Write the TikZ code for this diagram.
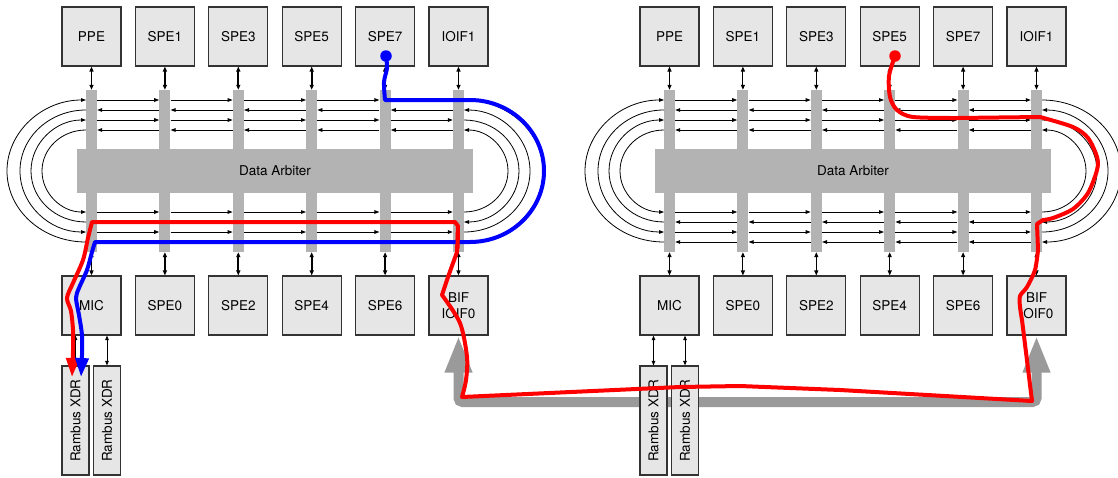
\documentclass[tikz,border=0pt]{standalone}
\usepackage{fontspec}
\setmainfont{TeX Gyre Heros}
\usetikzlibrary{arrows.meta}
\definecolor{boxfill}{HTML}{E6E6E6}
\definecolor{boxline}{HTML}{333333}
\definecolor{bargray}{HTML}{B3B3B3}
\definecolor{arrgray}{HTML}{9A9A9A}
\definecolor{pathred}{HTML}{FF0000}
\definecolor{pathblue}{HTML}{0000FF}
% x0, sign, y-start, y-end, x-radius
\newcommand{\ringarc}[5]{%
  \pgfmathsetmacro\arcYa{#3}\pgfmathsetmacro\arcYb{#4}%
  \pgfmathsetmacro\arcYc{(#3+#4)/2}%
  \pgfmathsetmacro\arcDd{(#4-#3)/2}%
  \pgfmathsetmacro\arcXo{#1}%
  \pgfmathsetmacro\arcXc{#1+#2*0.5523*#5}%
  \pgfmathsetmacro\arcXr{#1+#2*#5}%
  \pgfmathsetmacro\arcYu{\arcYc-0.5523*\arcDd}%
  \pgfmathsetmacro\arcYd{\arcYc+0.5523*\arcDd}%
  \draw[ring] (\arcXo,\arcYa) .. controls (\arcXc,\arcYa) and (\arcXr,\arcYu) .. (\arcXr,\arcYc) .. controls (\arcXr,\arcYd) and (\arcXc,\arcYb) .. (\arcXo,\arcYb);%
}
\begin{document}
\begin{tikzpicture}[x=1pt,y=-1pt,
  font=\fontsize{13.5}{16.5}\selectfont,
  box/.style={draw=boxline, line width=1.1pt, fill=boxfill, minimum width=59pt, minimum height=59pt, inner sep=0pt, align=center},
  xdr/.style={draw=boxline, line width=1.1pt, fill=boxfill, minimum width=109pt, minimum height=27pt, inner sep=0pt, rotate=90},
  bar/.style={fill=bargray, draw=none, inner sep=0pt, minimum width=11pt, minimum height=162pt},
  arbiter/.style={fill=bargray, draw=none, inner sep=0pt, minimum width=396pt, minimum height=44pt},
  ring/.style={line width=0.8pt, -{Triangle[length=5pt,width=3.6pt]}},
  vconn/.style={line width=#1, {Triangle[length=5pt,width=4pt]}-{Triangle[length=5pt,width=4pt]}},
  memconn/.style={line width=0.9pt, {Triangle[length=4.5pt,width=3.5pt]}-{Triangle[length=4.5pt,width=3.5pt]}},
  bigarrow/.style={draw=arrgray, line width=10pt, rounded corners=4pt, {Triangle[length=37pt,width=25pt]}-{Triangle[length=37pt,width=25pt]}},
  route/.style={line width=4pt, line join=round, line cap=round},
  routetip/.style={-{Triangle[length=19pt,width=13pt]}},
  dot/.style={circle, inner sep=0pt, minimum size=11.5pt},
]
\useasboundingbox (0,0) rectangle (1118,477);

\foreach \p/\ox/\vw in {L/0/1.9pt,R/578/1.1pt}{
  \foreach \lab [count=\i from 0] in {PPE,SPE1,SPE3,SPE5,SPE7,IOIF1}{
    \node[box] (\p-t\i) at (\ox+91.5+73.4*\i, 36.5) {\lab};
    \node[bar] (\p-b\i) at (\ox+91.5+73.4*\i, 171) {};
  }
  \foreach \lab [count=\i from 0] in {MIC,SPE0,SPE2,SPE4,SPE6,{BIF\\IOIF0}}{
    \node[box] (\p-d\i) at (\ox+91.5+73.4*\i, 305.5) {\lab};
  }
  \node[arbiter] (\p-da) at (\ox+275,171) {Data Arbiter};
  \foreach \i in {0,...,5}{
    \draw[vconn=\vw] (\p-t\i.south) -- (\p-b\i.north);
    \draw[vconn=\vw] (\p-b\i.south) -- (\p-d\i.north);
  }
  \foreach \i in {0,...,4}{
    \pgfmathtruncatemacro\j{\i+1}
    \foreach \yy in {100,120,212,232}
      \draw[ring] (\p-b\i.east |- 0,\yy) -- (\p-b\j.west |- 0,\yy);
    \foreach \yy in {110,130,222,242}
      \draw[ring] (\p-b\j.west |- 0,\yy) -- (\p-b\i.east |- 0,\yy);
  }
  \ringarc{\ox+86}{-1}{242}{100}{79}
  \ringarc{\ox+86}{-1}{110}{232}{66}
  \ringarc{\ox+86}{-1}{222}{120}{55}
  \ringarc{\ox+86}{-1}{130}{212}{44}
  \ringarc{\ox+464}{1}{100}{242}{79}
  \ringarc{\ox+464}{1}{232}{110}{66}
  \ringarc{\ox+464}{1}{120}{222}{55}
  \ringarc{\ox+464}{1}{212}{130}{44}
}

% link between the two BIF ports
\draw[bigarrow] (L-d5.south) -- (L-d5.south |- 0,402) -- (R-d5.south |- 0,402) -- (R-d5.south);

% memory
\foreach \p/\ox in {L/0,R/578}{
  \node[xdr] (\p-x0) at (\ox+75.5,420.5) {Rambus XDR};
  \node[xdr] (\p-x1) at (\ox+107,420.5) {Rambus XDR};
  \draw[memconn] (\p-x0.east |- \p-d0.south) -- (\p-x0.east);
  \draw[memconn] (\p-x1.east |- \p-d0.south) -- (\p-x1.east);
}

% red route: SPE5 (right chip) to memory of left chip
\node[dot, fill=pathred] (rdot) at (895,56) {};
\draw[route, draw=pathred, routetip]
  plot[smooth] coordinates {(895,56) (889,76) (890,97) (897,110) (913,117) (957,118)}
  -- (1040,117)
  -- plot[smooth] coordinates {(1040,117) (1073,127) (1088,138) (1097,157) (1097,170) (1088,193) (1073,209) (1053,218) (1043,220)}
  -- (1037,224) -- (1038,250)
  -- plot[smooth] coordinates {(1038,250) (1035,270) (1027,287) (1020,296) (1020,307) (1022,320)}
  -- (1032,401) -- (840,390) -- (740,386) -- (680,387) -- (462,397)
  -- plot[smooth] coordinates {(462,397) (466,380) (467,357) (460,323) (442,295)}
  -- (448,277) -- (457,252) -- (458,226) -- (455,222) -- (92,222)
  -- plot[smooth] coordinates {(92,222) (88,238) (83,260) (73,283) (67,298) (71,311) (73,330) (73,350) (72,377)};

% blue route: SPE7 (left chip) to memory
\node[dot, fill=pathblue] (bdot) at (386,56) {};
\draw[route, draw=pathblue, routetip]
  plot[smooth] coordinates {(386,56) (387,68) (384,82) (385,100)}
  -- (470,100) .. controls (511,100) and (544,132) .. (544,171)
  .. controls (544,210) and (511,242) .. (470,242) -- (95,242)
  -- plot[smooth] coordinates {(95,242) (92,252) (87,270) (79,288) (76,298) (79,315) (82,335) (82,355) (81,377)};
\draw[route, draw=pathred] (458,232) -- (457.5,248);
\end{tikzpicture}
\end{document}
